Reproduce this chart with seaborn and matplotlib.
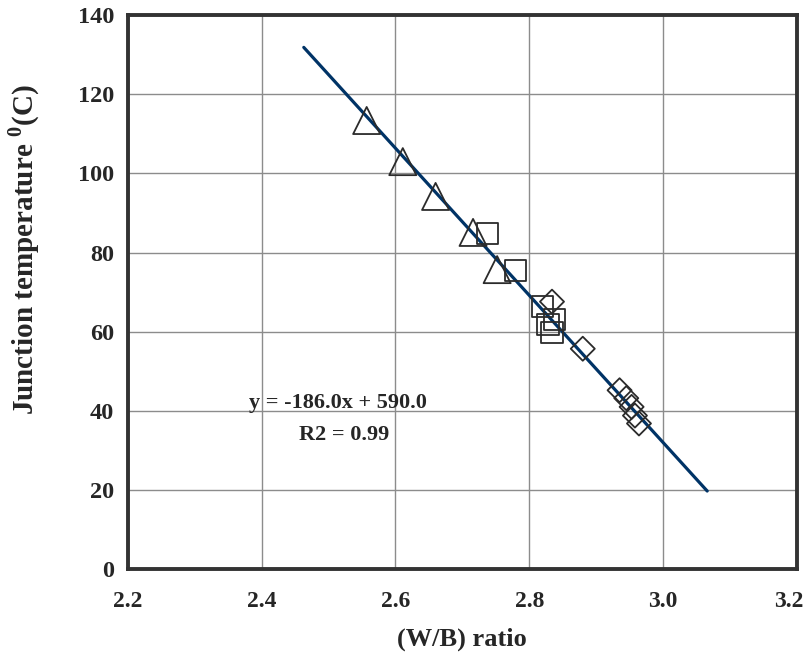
import numpy as np
import pandas as pd
import matplotlib
matplotlib.use('Agg')
import matplotlib.pyplot as plt
import matplotlib.transforms as mtransforms
import seaborn as sns
from matplotlib.ticker import FormatStrFormatter

# Données
tri_ratio = [2.557, 2.611, 2.660, 2.716, 2.752]
tri_temp = [113.4, 103.0, 94.2, 85.1, 75.7]

sq_ratio = [2.738, 2.780, 2.820, 2.838, 2.828, 2.834]
sq_temp = [84.8, 75.4, 66.3, 63.0, 61.8, 59.7]

dia_ratio = [2.834, 2.880, 2.935, 2.945, 2.953, 2.958, 2.964]
dia_temp = [67.6, 55.7, 45.2, 43.2, 41.0, 38.8, 36.8]

slope = -186.0
intercept = 590.0
fit_range = [2.463, 3.066]

x_ticks = [2.2, 2.4, 2.6, 2.8, 3.0, 3.2]
y_ticks = [0, 20, 40, 60, 80, 100, 120, 140]

sns.set_style('white')
plt.rcParams['font.family'] = ['Liberation Serif', 'DejaVu Serif']
plt.rcParams['font.weight'] = 'bold'
plt.rcParams['mathtext.fontset'] = 'custom'
plt.rcParams['mathtext.rm'] = 'Liberation Serif:bold'
plt.rcParams['mathtext.bf'] = 'Liberation Serif:bold'

fig = plt.figure(figsize=(8.09, 6.64), dpi=100)
ax = fig.add_axes([0.158, 0.143, 0.827, 0.834])

# Droite de régression
fit_x = np.array(fit_range)
fit_df = pd.DataFrame({'x': fit_x, 'y': slope * fit_x + intercept})
sns.lineplot(data=fit_df, x='x', y='y', ax=ax, color='#003366', linewidth=2.3, zorder=3)

# Points expérimentaux (marqueurs creux)
marker_kw = dict(facecolor='none', edgecolor='#2b2b2b', linewidth=1.3, zorder=4)
sns.scatterplot(x=tri_ratio, y=tri_temp, marker='^', s=380, ax=ax, **marker_kw)
sns.scatterplot(x=sq_ratio, y=sq_temp, marker='s', s=230, ax=ax, **marker_kw)
sns.scatterplot(x=dia_ratio, y=dia_temp, marker='D', s=150, ax=ax, **marker_kw)

ax.set_xlim(2.2, 3.2)
ax.set_ylim(0, 140)
ax.set_xticks(x_ticks)
ax.set_yticks(y_ticks)
ax.xaxis.set_major_formatter(FormatStrFormatter('%.1f'))

ax.grid(True, color='#8c8c8c', linewidth=1.0)
ax.set_axisbelow(True)
for sp in ax.spines.values():
    sp.set_color('#333333')
    sp.set_linewidth(2.8)

ax.tick_params(axis='x', direction='out', length=10, width=1, color='#333333',
               labelsize=17, pad=6)
ax.tick_params(axis='y', direction='out', length=7, width=1, color='#333333',
               labelsize=17.5, pad=3)
for lab in ax.get_xticklabels() + ax.get_yticklabels():
    lab.set_fontweight('bold')

# le dernier label touche le bord : léger décalage à gauche
last = ax.xaxis.get_major_ticks()[-1].label1
last.set_transform(last.get_transform() +
                   mtransforms.ScaledTranslation(-0.08, 0, fig.dpi_scale_trans))

ax.set_xlabel('(W/B) ratio', fontsize=19, fontweight='bold')
ax.set_ylabel(r'Junction temperature $^{0}$(C)', fontsize=21, fontweight='bold')
ax.xaxis.set_label_coords(0.5, -0.106)
ax.yaxis.set_label_coords(-0.128, 0.577)

ax.text(2.514, 42.0, 'y = -186.0x + 590.0', fontsize=16, fontweight='bold',
        ha='center', va='center')
ax.text(2.524, 33.9, 'R2 = 0.99', fontsize=16, fontweight='bold',
        ha='center', va='center')

plt.savefig('out.png', dpi=100)
